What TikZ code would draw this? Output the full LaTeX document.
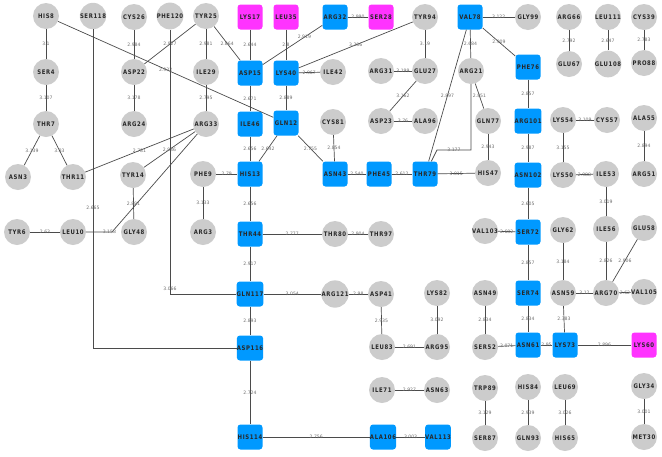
\documentclass[tikz,border=0pt]{standalone}
\usepackage{fontspec}
\newfontfamily\nodefam[LetterSpace=10,FakeStretch=0.85]{DejaVu Sans}
\newfontfamily\lblfam{DejaVu Sans}
\definecolor{cgray}{RGB}{204,204,204}
\definecolor{cblue}{RGB}{0,153,255}
\definecolor{cmag}{RGB}{255,51,255}
\definecolor{egray}{RGB}{75,75,75}
\definecolor{lgray}{RGB}{110,110,110}
\definecolor{ntext}{RGB}{40,40,40}
\tikzset{
 nd/.style={inner sep=0pt, font=\nodefam\bfseries\fontsize{6.3}{6.5}\selectfont, text=ntext},
 cn/.style={nd, circle, fill=cgray, minimum size=26pt},
 bn/.style={nd, rectangle, rounded corners=3pt, fill=cblue, minimum width=25pt, minimum height=25pt},
 mn/.style={bn, fill=cmag},
 lbl/.style={inner sep=0pt, font=\lblfam\fontsize{4.6}{5}\selectfont, text=lgray},
 edg/.style={draw=egray, line width=0.7pt}
}
\newcommand\ed[3]{\draw[edg] (#1) -- node[lbl]{#3} (#2);}
\begin{document}
\begin{tikzpicture}[x=1pt,y=-1pt]
\useasboundingbox (0,0) rectangle (662,456);
% row 1
\node[cn] (HIS8) at (46,16) {HIS8};
\node[cn] (SER118) at (93,16) {SER118};
\node[cn] (CYS26) at (134,17) {CYS26};
\node[cn] (PHE120) at (170,16) {PHE120};
\node[cn] (TYR25) at (206,16) {TYR25};
\node[mn] (LYS17) at (250,17) {LYS17};
\node[mn] (LEU35) at (286,17) {LEU35};
\node[bn] (ARG32) at (335,17) {ARG32};
\node[mn] (SER28) at (381,17) {SER28};
\node[cn] (TYR94) at (425,17) {TYR94};
\node[bn] (VAL78) at (470,17) {VAL78};
\node[cn] (GLY99) at (528,17) {GLY99};
\node[cn] (ARG66) at (569,17) {ARG66};
\node[cn] (LEU111) at (608,17) {LEU111};
\node[cn] (CYS39) at (644,17) {CYS39};
% row 2
\node[cn] (SER4) at (46,72) {SER4};
\node[cn] (ASP22) at (134,72) {ASP22};
\node[cn] (ILE29) at (206,72) {ILE29};
\node[bn] (ASP15) at (250,73) {ASP15};
\node[bn] (LYS40) at (286,73) {LYS40};
\node[cn] (ILE42) at (333,72) {ILE42};
\node[cn] (ARG31) at (381,71) {ARG31};
\node[cn] (GLU27) at (425,71) {GLU27};
\node[cn] (ARG21) at (471,71) {ARG21};
\node[bn] (PHE76) at (528,67) {PHE76};
\node[cn] (GLU67) at (569,64) {GLU67};
\node[cn] (GLU108) at (608,64) {GLU108};
\node[cn] (PRO88) at (644,63) {PRO88};
% row 3
\node[cn] (THR7) at (46,124) {THR7};
\node[cn] (ARG24) at (134,124) {ARG24};
\node[cn] (ARG33) at (206,124) {ARG33};
\node[bn] (ILE46) at (250,124) {ILE46};
\node[bn] (GLN12) at (286,123) {GLN12};
\node[cn] (CYS81) at (333,122) {CYS81};
\node[cn] (ASP23) at (381,121) {ASP23};
\node[cn] (ALA96) at (425,121) {ALA96};
\node[cn] (GLN77) at (488,121) {GLN77};
\node[bn] (ARG101) at (528,121) {ARG101};
\node[cn] (LYS54) at (563,120) {LYS54};
\node[cn] (CYS57) at (607,120) {CYS57};
\node[cn] (ALA55) at (644,118) {ALA55};
% row 4
\node[cn] (ASN3) at (18,177) {ASN3};
\node[cn] (THR11) at (73,177) {THR11};
\node[cn] (TYR14) at (133,175) {TYR14};
\node[cn] (PHE9) at (203,174) {PHE9};
\node[bn] (HIS13) at (250,174) {HIS13};
\node[bn] (ASN43) at (335,174) {ASN43};
\node[bn] (PHE45) at (379,174) {PHE45};
\node[bn] (THR79) at (425,174) {THR79};
\node[cn] (HIS47) at (488,173) {HIS47};
\node[bn] (ASN102) at (528,175) {ASN102};
\node[cn] (LYS50) at (563,175) {LYS50};
\node[cn] (ILE53) at (606,174) {ILE53};
\node[cn] (ARG51) at (644,174) {ARG51};
% row 5
\node[cn] (TYR6) at (17,232) {TYR6};
\node[cn] (LEU10) at (73,232) {LEU10};
\node[cn] (GLY48) at (134,232) {GLY48};
\node[cn] (ARG3) at (203,232) {ARG3};
\node[bn] (THR44) at (250,234) {THR44};
\node[cn] (THR80) at (335,234) {THR80};
\node[cn] (THR97) at (381,234) {THR97};
\node[cn] (VAL103) at (485,231) {VAL103};
\node[bn] (SER72) at (528,232) {SER72};
\node[cn] (GLY62) at (563,230) {GLY62};
\node[cn] (ILE56) at (606,229) {ILE56};
\node[cn] (GLU58) at (644,228) {GLU58};
% row 6
\node[bn] (GLN117) at (250,294) {GLN117};
\node[cn] (ARG121) at (335,294) {ARG121};
\node[cn] (ASP41) at (381,294) {ASP41};
\node[cn] (LYS82) at (437,293) {LYS82};
\node[cn] (ASN49) at (485,293) {ASN49};
\node[bn] (SER74) at (528,293) {SER74};
\node[cn] (ASN59) at (563,293) {ASN59};
\node[cn] (ARG70) at (606,293) {ARG70};
\node[cn] (VAL105) at (644,292) {VAL105};
% row 7
\node[bn] (ASP116) at (250,348) {ASP116};
\node[cn] (LEU83) at (382,347) {LEU83};
\node[cn] (ARG95) at (437,347) {ARG95};
\node[cn] (SER52) at (485,347) {SER52};
\node[bn] (ASN61) at (528,345) {ASN61};
\node[bn] (LYS73) at (565,345) {LYS73};
\node[mn] (LYS60) at (644,345) {LYS60};
% row 8
\node[cn] (ILE71) at (382,390) {ILE71};
\node[cn] (ASN63) at (437,390) {ASN63};
\node[cn] (TRP89) at (485,388) {TRP89};
\node[cn] (HIS84) at (528,387) {HIS84};
\node[cn] (LEU69) at (565,387) {LEU69};
\node[cn] (GLY34) at (644,386) {GLY34};
% row 9
\node[bn] (HIS114) at (250,437) {HIS114};
\node[bn] (ALA106) at (383,437) {ALA106};
\node[bn] (VAL113) at (438,437) {VAL113};
\node[cn] (SER87) at (485,438) {SER87};
\node[cn] (GLN93) at (528,438) {GLN93};
\node[cn] (HIS65) at (565,438) {HIS65};
\node[cn] (MET30) at (644,437) {MET30};
% bend points
\coordinate (b1) at (112,232);
\coordinate (b2) at (471,150);
\coordinate (b3) at (437,150);
% edges
\ed{HIS8}{SER4}{3.1}
\ed{SER4}{THR7}{3.107}
\ed{THR7}{ASN3}{3.139}
\ed{THR7}{THR11}{3.33}
\ed{HIS8}{GLN12}{2.932}
\ed{CYS26}{ASP22}{2.984}
\ed{ASP22}{ARG24}{3.178}
\ed{TYR25}{ASP22}{2.927}
\ed{TYR25}{ILE29}{2.981}
\ed{TYR25}{ASP15}{2.864}
\ed{ILE29}{ARG33}{2.795}
\ed{ARG33}{THR11}{2.781}
\ed{ARG33}{TYR14}{2.986}
\draw[edg] (LEU10) -- node[lbl,pos=0.9]{3.158} (b1) -- (ARG33);
\ed{TYR14}{GLY48}{2.881}
\ed{TYR6}{LEU10}{2.63}
\draw[edg] (SER118) |- node[lbl,pos=0.28]{2.665} (ASP116);
\draw[edg] (PHE120) |- node[lbl,pos=0.49]{3.066} (GLN117);
\ed{LYS17}{ASP15}{2.644}
\ed{LEU35}{LYS40}{2.8}
\draw[edg] (ARG32) -- node[lbl,pos=0.3]{2.919} (ASP15);
\ed{ARG32}{SER28}{2.990}
\ed{TYR94}{LYS40}{3.386}
\ed{LYS40}{ILE42}{2.967}
\ed{LYS40}{GLN12}{2.889}
\ed{ASP15}{ILE46}{2.671}
\ed{ILE46}{HIS13}{2.656}
\ed{GLN12}{HIS13}{2.642}
\ed{GLN12}{ASN43}{2.755}
\ed{CYS81}{ASN43}{2.854}
\ed{ASN43}{PHE45}{2.540}
\ed{PHE45}{THR79}{2.612}
\ed{THR79}{HIS47}{3.015}
\ed{TYR94}{GLU27}{3.19}
\ed{ARG31}{GLU27}{3.199}
\ed{GLU27}{ASP23}{3.162}
\ed{ASP23}{ALA96}{3.76}
\ed{VAL78}{GLY99}{3.122}
\ed{VAL78}{PHE76}{2.909}
\ed{VAL78}{ARG21}{2.684}
\ed{VAL78}{THR79}{2.897}
\ed{ARG21}{GLN77}{2.851}
\draw[edg] (ARG21) -- (b2) -- node[lbl]{3.177} (b3) -- (THR79);
\ed{GLN77}{HIS47}{2.943}
\ed{PHE9}{HIS13}{2.79}
\ed{PHE9}{ARG3}{3.133}
\ed{HIS13}{THR44}{2.656}
\ed{THR44}{THR80}{2.777}
\ed{THR80}{THR97}{2.904}
\ed{THR44}{GLN117}{2.917}
\ed{GLN117}{ARG121}{3.054}
\ed{ARG121}{ASP41}{2.98}
\ed{ASP41}{LEU83}{2.935}
\ed{LYS82}{ARG95}{3.092}
\ed{LEU83}{ARG95}{2.691}
\ed{GLN117}{ASP116}{2.893}
\ed{ASP116}{HIS114}{2.724}
\ed{HIS114}{ALA106}{2.756}
\ed{ALA106}{VAL113}{3.003}
\ed{ILE71}{ASN63}{2.927}
\ed{TRP89}{SER87}{3.129}
\ed{ASN49}{SER52}{2.834}
\ed{SER52}{ASN61}{3.071}
\ed{ASN61}{LYS73}{2.95}
\ed{LYS73}{LYS60}{2.896}
\ed{SER74}{ASN61}{2.834}
\ed{ASN59}{LYS73}{2.383}
\ed{HIS84}{GLN93}{2.939}
\ed{LEU69}{HIS65}{3.026}
\ed{GLY34}{MET30}{3.001}
\ed{SER72}{SER74}{2.857}
\ed{ASN102}{SER72}{2.605}
\ed{VAL103}{SER72}{2.682}
\ed{ARG101}{ASN102}{2.987}
\ed{PHE76}{ARG101}{2.857}
\ed{LYS54}{CYS57}{3.109}
\ed{LYS54}{LYS50}{3.155}
\ed{LYS50}{ILE53}{2.988}
\ed{ALA55}{ARG51}{2.894}
\ed{ILE53}{ILE56}{3.019}
\ed{ILE56}{ARG70}{2.826}
\ed{GLU58}{ARG70}{2.906}
\ed{GLY62}{ASN59}{3.184}
\ed{ASN59}{ARG70}{3.12}
\ed{ARG70}{VAL105}{2.62}
\ed{ARG66}{GLU67}{2.792}
\ed{LEU111}{GLU108}{2.647}
\ed{CYS39}{PRO88}{2.783}
\end{tikzpicture}
\end{document}
